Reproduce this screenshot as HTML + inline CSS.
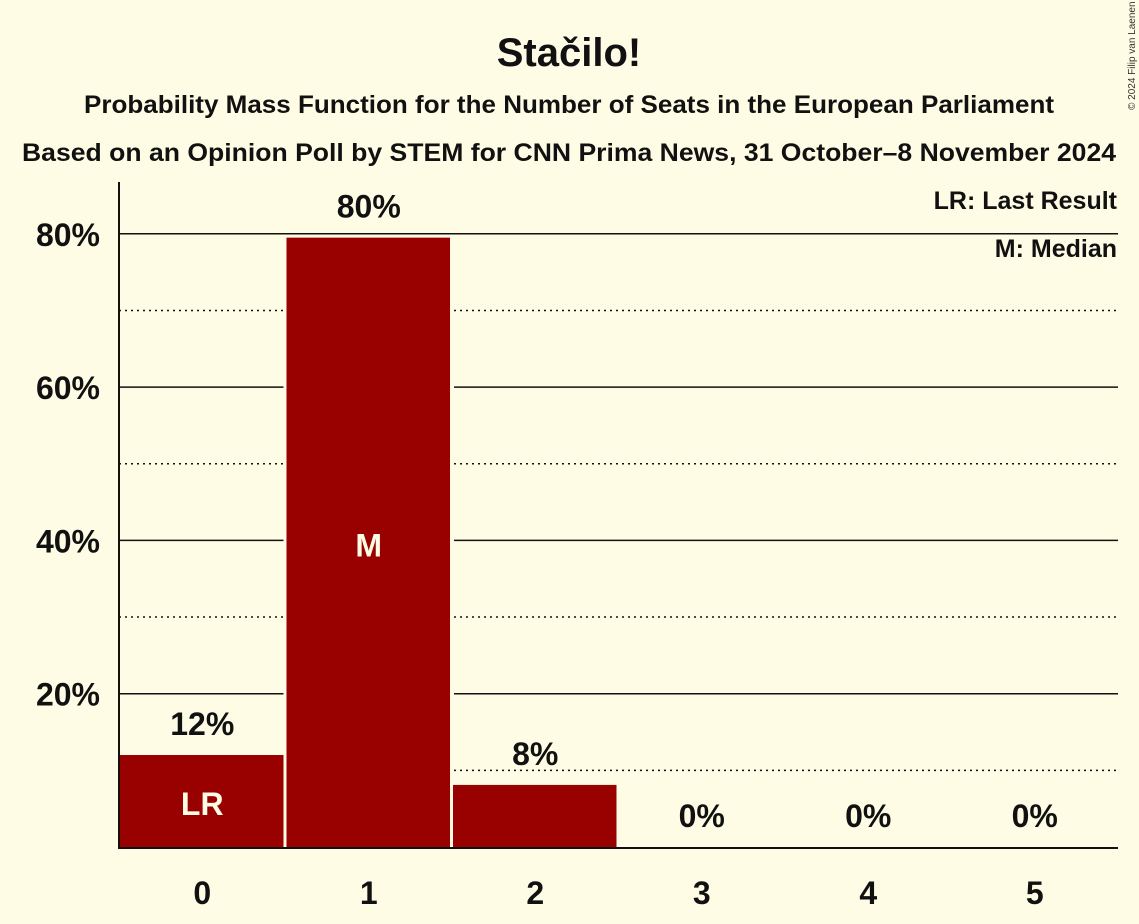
<!DOCTYPE html>
<html><head><meta charset="utf-8"><style>
html,body{margin:0;padding:0;background:#FFFCE5;}
svg{display:block;font-family:"Liberation Sans",sans-serif;font-weight:bold;}
</style></head><body>
<svg id="c" width="1139" height="924" viewBox="0 0 1139 924">
<rect width="1139" height="924" fill="#FFFCE5"/>
<text x="569" y="66" text-anchor="middle" font-size="40" fill="#111">Stačilo!</text>
<text x="569" y="113" text-anchor="middle" font-size="25" textLength="970" lengthAdjust="spacingAndGlyphs" fill="#111">Probability Mass Function for the Number of Seats in the European Parliament</text>
<text x="569" y="161" text-anchor="middle" font-size="25" textLength="1094" lengthAdjust="spacingAndGlyphs" fill="#111">Based on an Opinion Poll by STEM for CNN Prima News, 31 October–8 November 2024</text>
<text x="1135" y="110" font-size="10" font-weight="normal" fill="#333" transform="rotate(-90 1135 110)">© 2024 Filip van Laenen</text>
<text x="1117" y="209" text-anchor="end" font-size="25" fill="#111">LR: Last Result</text>
<text x="1117" y="257" text-anchor="end" font-size="25" fill="#111">M: Median</text>
<g id="grid"></g><g id="bars"></g><g id="labels"></g>
<line x1="119" y1="182" x2="119" y2="848" stroke="#111" stroke-width="2"/>
<line x1="118" y1="848" x2="1118" y2="848" stroke="#111" stroke-width="2"/>
</svg>
<script>
const categories=["0","1","2","3","4","5"];
const values=[12,79.5,8.1,0,0,0];
const valueLabels=["12%","80%","8%","0%","0%","0%"];
const yTicks=[20,40,60,80];
const yMinor=[10,30,50,70];
const yTickLabels=["20%","40%","60%","80%"];
const markers=["LR","M","","","",""];
const NS="http://www.w3.org/2000/svg";
const x0=119,x1=1118,y0=847,pxPer=7.665;
const bw=(x1-x0)/categories.length;
const y=v=>y0-v*pxPer;
const xs=i=>x0+i*bw;
function mk(t,a,p){const e=document.createElementNS(NS,t);for(const k in a)e.setAttribute(k,a[k]);p.appendChild(e);return e;}
const grid=document.getElementById('grid'),bars=document.getElementById('bars'),labels=document.getElementById('labels');
function drawLine(v,dotted){
  let segs=[];let start=x0;
  categories.forEach((c,i)=>{if(y(values[i])<y(v)+1){segs.push([start,xs(i)-2]);start=xs(i+1)+2;}});
  segs.push([start,x1]);
  segs.forEach(s=>{if(s[1]>s[0]){const l=mk('line',{x1:s[0],x2:s[1],y1:y(v),y2:y(v),stroke:'#111','stroke-width':1.5,'stroke-dasharray':dotted?'2,4':'none'},grid);
  
  }});
}
yMinor.forEach(v=>drawLine(v,true));
yTicks.forEach((v,i)=>{drawLine(v,false);
  const t=mk('text',{x:100,y:y(v)+12,'text-anchor':'end','font-size':32,fill:'#111'},labels);t.textContent=yTickLabels[i];
  
  });
categories.forEach((c,i)=>{
  const bx=xs(i)+1,bwid=bw-3;
  if(values[i]>0){const r=mk('rect',{x:bx,y:y(values[i]),width:bwid,height:y0-y(values[i]),fill:'#990000'},bars);
  
  }
  const cx=xs(i)+bw/2;
  const ly=values[i]>0?y(values[i])-20:y0-20;
  const t=mk('text',{x:cx,y:ly,'text-anchor':'middle','font-size':32,fill:'#111'},labels);t.textContent=valueLabels[i];
  
  
  const xl=mk('text',{x:cx,y:904,'text-anchor':'middle','font-size':32,fill:'#111'},labels);xl.textContent=c;
  
  
  if(markers[i]){const my=y(values[i]/2)+14;
   const m=mk('text',{x:cx,y:my,'text-anchor':'middle','font-size':32,fill:'#FFFCE5'},labels);m.textContent=markers[i];
   
   }
});
</script>
</body></html>
